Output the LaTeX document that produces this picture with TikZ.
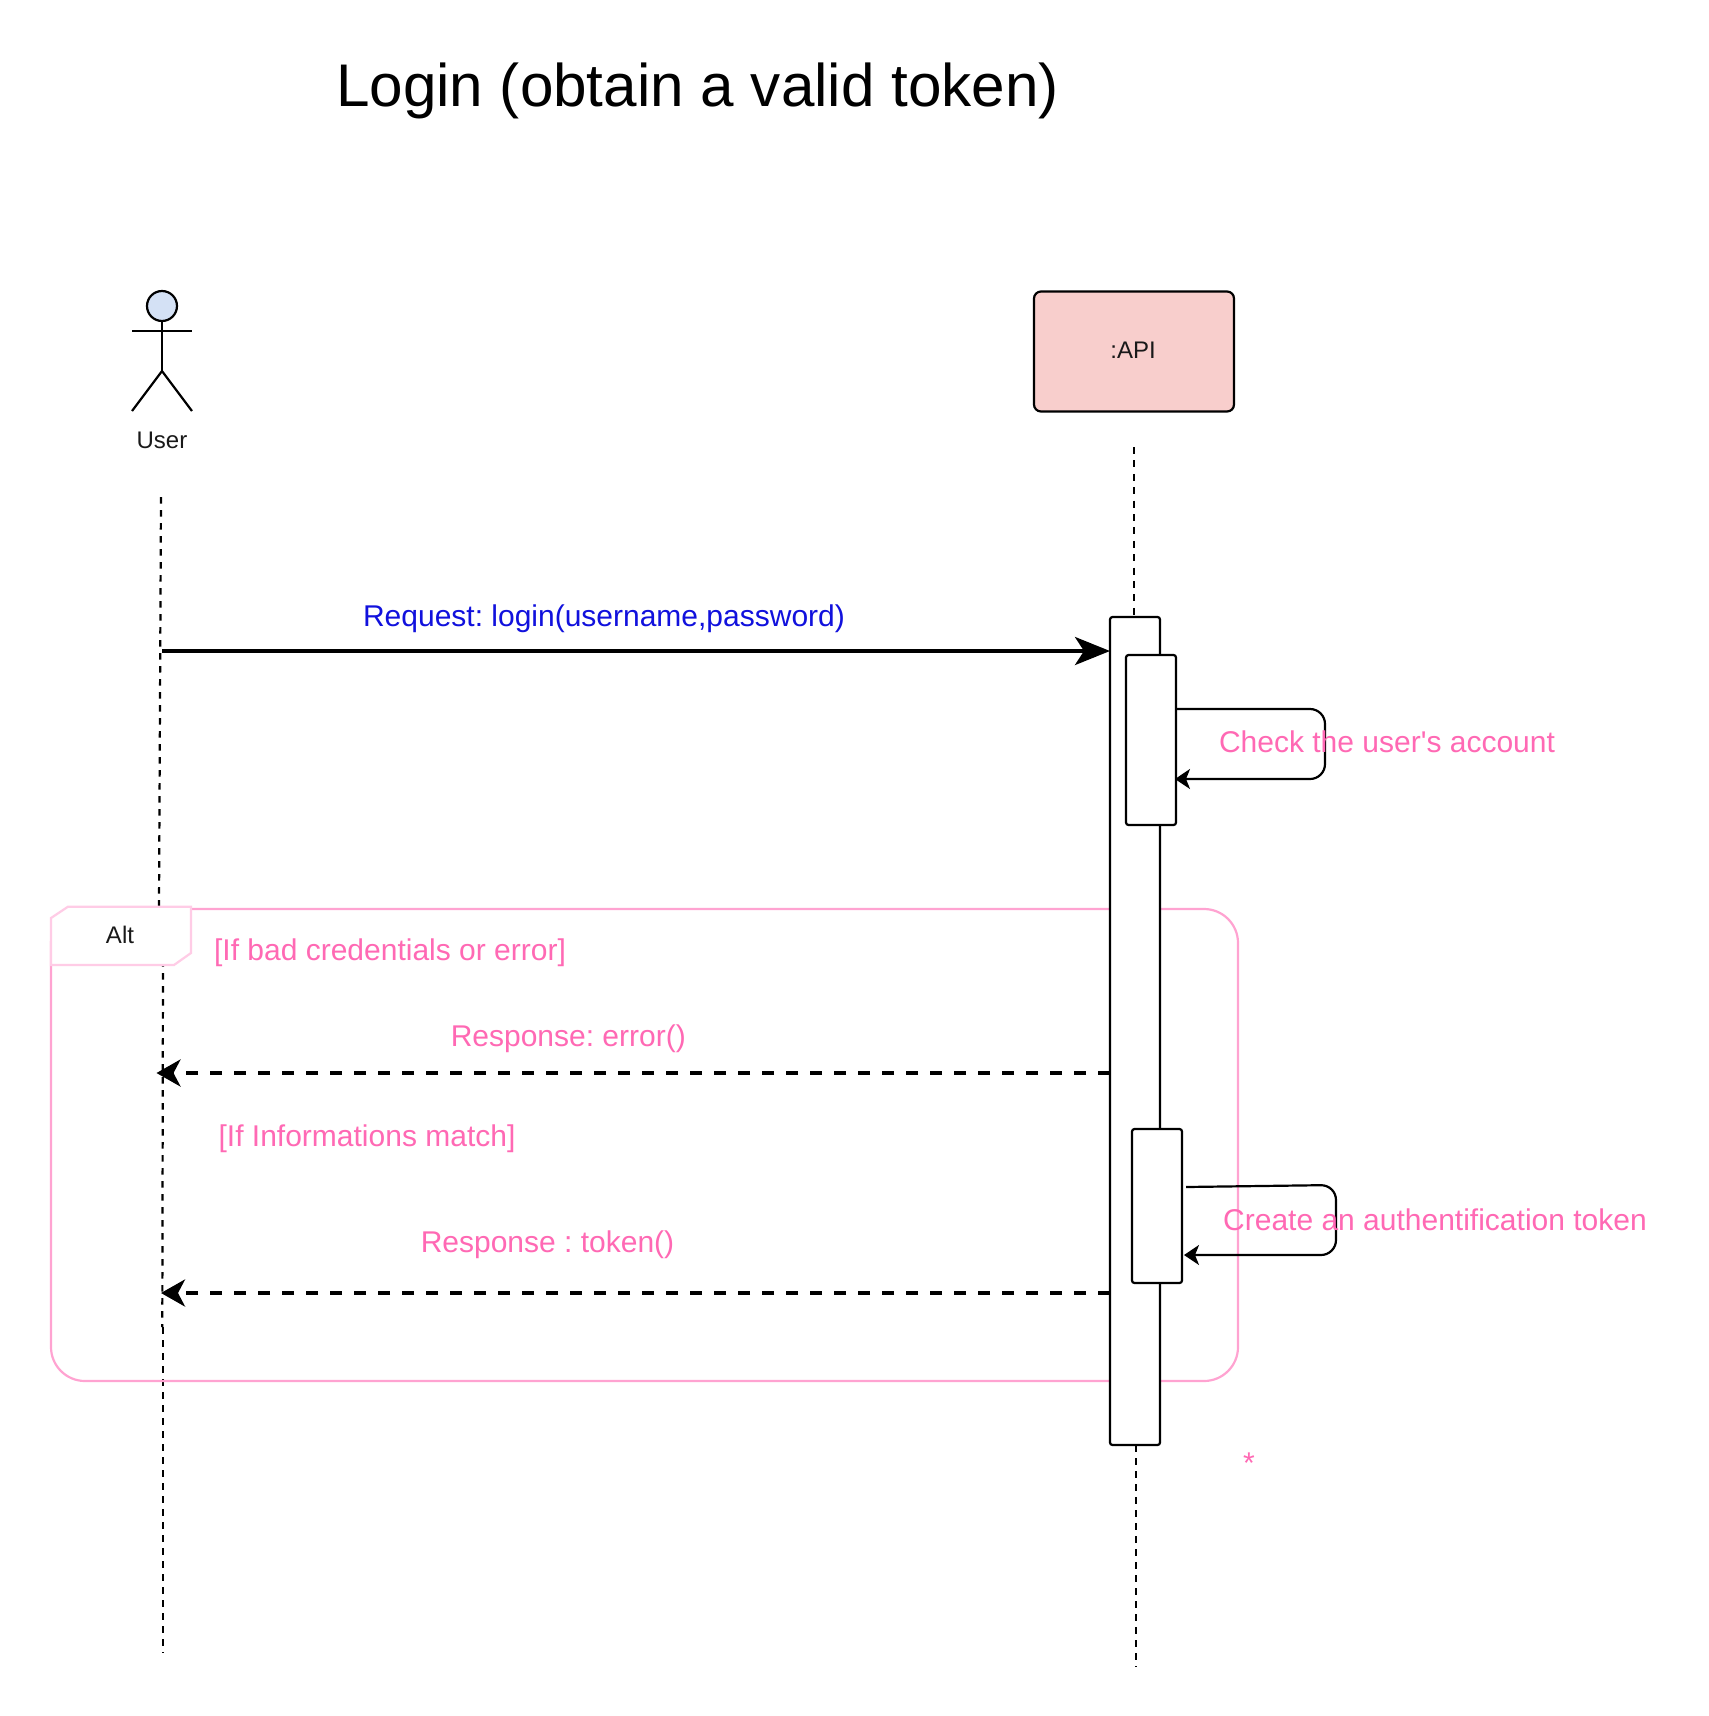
\documentclass[tikz,border=0pt]{standalone}
\usepackage{fontspec}
\setmainfont{Liberation Sans}[Ligatures=TeXOff]
\AtBeginDocument{\frenchspacing}
\usetikzlibrary{arrows.meta,calc}
\definecolor{hotp}{HTML}{FF69B4}
\definecolor{framep}{HTML}{FFA3D1}
\definecolor{altp}{HTML}{FFCCE6}
\definecolor{reqb}{HTML}{1111DD}
\definecolor{apif}{HTML}{F8CECC}
\definecolor{headf}{HTML}{D4E1F5}
\tikzset{
  ln/.style={line width=2.2pt,draw=black},
  lifeline/.style={ln,dash pattern=on 6.5pt off 6.5pt},
  activation/.style={ln,fill=white,rounded corners=2.5pt,inner sep=0pt,outer sep=0pt,anchor=north west},
  pinktext/.style={text=hotp,inner sep=0pt,font=\fontsize{30}{36}\selectfont},
  smalltext/.style={text=black!90,inner sep=0pt,font=\fontsize{24}{29}\selectfont},
  bigmsg/.style={line width=3.8pt,draw=black,-{Stealth[length=35pt,width=28pt,inset=9pt]}},
  retmsg/.style={line width=3.8pt,draw=black,dash pattern=on 12pt off 12pt,-{Stealth[length=24pt,width=27pt,inset=7pt]}},
  selfmsg/.style={ln,rounded corners=15pt,-{Stealth[length=15pt,width=20pt,inset=4pt]}},
}
\begin{document}
\begin{tikzpicture}[x=1pt,y=-1pt]
\useasboundingbox (0,0) rectangle (1708,1716);
\fill[white] (0,0) rectangle (1708,1716);
% coordinates
\coordinate (ut) at (161,497);
\coordinate (um) at (159,908);
\coordinate (ub) at (163,960);
\coordinate (ug) at (162.3,1327);
\coordinate (uh) at (163,1327);
\coordinate (ue) at (163,1653);
\coordinate (at) at (1134,447);
\coordinate (am) at (1134,618);
\coordinate (an) at (1136,1445);
\coordinate (ab) at (1136,1667);
% lifelines
\draw[lifeline] (ut) -- (um);
\draw[lifeline] (ub) -- (ug);
\draw[lifeline] (uh) -- (ue);
\draw[ln,dash pattern=on 7pt off 6.4pt] (at) -- (am);
\draw[lifeline] (an) -- (ab);
% frame
\node[draw=framep,line width=2.2pt,rounded corners=34pt,inner sep=0pt,outer sep=0pt,minimum width=1187pt,minimum height=472pt,anchor=north west] (frame) at (51,909) {};
% activations
\node[activation,minimum width=50pt,minimum height=828pt] (act1) at (1110,617) {};
\node[activation,minimum width=50pt,minimum height=170pt] (act2) at (1126,655) {};
\node[activation,minimum width=50pt,minimum height=154pt] (act3) at (1132,1129) {};
% actor
\node[ln,circle,fill=headf,minimum size=30pt,inner sep=0pt] (head) at (162,306) {};
\coordinate (hip) at (162,371);
\draw[ln] (head.south) -- (hip);
\draw[ln] (132,331) -- (192,331);
\draw[ln] (132,411) -- (hip) -- (192,411);
\node[smalltext] (user) at (162,440) {User};
% API box
\node[ln,fill=apif,rounded corners=7pt,minimum width=200pt,minimum height=120pt,inner sep=0pt,outer sep=0pt] (api) at (1134,351.5) {};
\node[smalltext] (apit) at (1133,350) {:API};
% Alt
\path[fill=white,draw=altp,line width=2.2pt] (51,918) -- (68,906.7) -- (191,906.7) -- (191,953) -- (174,965) -- (51,965) -- cycle;
\node[smalltext] (alt) at (120,935) {Alt};
% title
\node[inner sep=0pt,font=\fontsize{60.2}{72}\selectfont] (title) at (697.5,91) {Login (obtain a valid token)};
% messages
\coordinate (m1s) at (162,651);
\draw[bigmsg] (m1s) -- (act1.west |- m1s);
\coordinate (m2s) at (act1.west |- 0,1073);
\coordinate (m2e) at (156.5,1073);
\draw[retmsg] (m2s) -- (m2e);
\coordinate (m3s) at (act1.west |- 0,1293);
\coordinate (m3e) at (161,1293);
\draw[retmsg] (m3s) -- (m3e);
% self messages
\draw[selfmsg] (act2.east |- 0,709) -- (1325,709) -- (1325,779) -- (1175,779);
\draw[selfmsg] (1186,1187) -- (1336,1185) -- (1336,1255) -- (1184,1255);
% labels
\node[pinktext,text=reqb] (l1) at (604,618.7) {Request: login(username,password)};
\node[pinktext] (l2) at (1387,742) {Check the user's account};
\node[pinktext] (l3) at (390,952.7) {[If bad credentials or error]};
\node[pinktext] (l4) at (568.3,1039.2) {Response: error()};
\node[pinktext] (l5) at (367,1138.8) {[If Informations match]};
\node[pinktext] (l6) at (547.5,1245.2) {Response : token()};
\node[pinktext] (l7) at (1435,1220) {Create an authentification token};
\node[pinktext] (l8) at (1249,1463.5) {*};
\end{tikzpicture}
\end{document}
